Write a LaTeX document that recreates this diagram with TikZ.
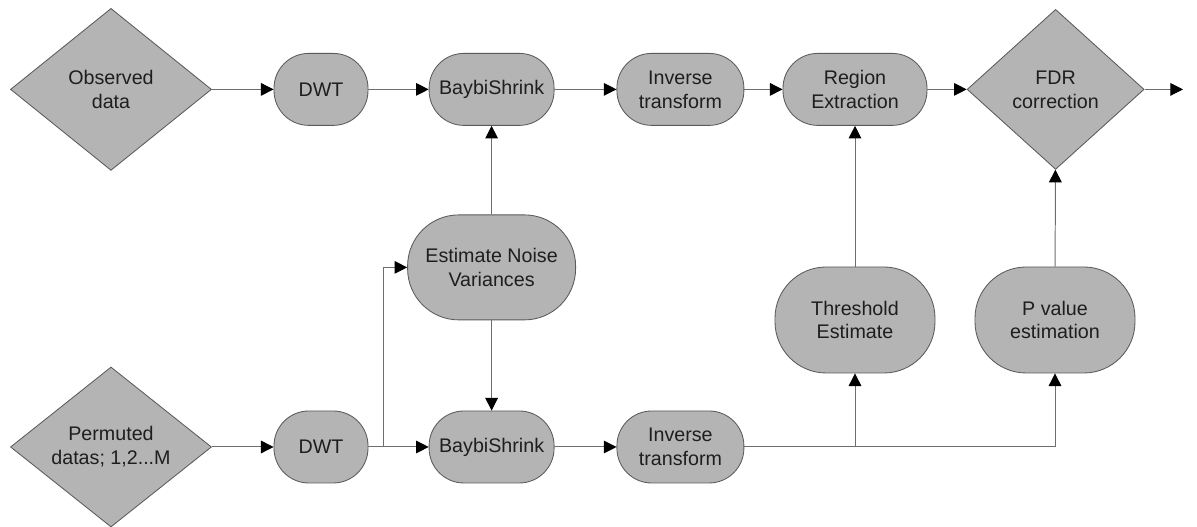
\documentclass[tikz,border=0pt]{standalone}
\usepackage{fontspec}
\setmainfont{Liberation Sans}
\usepackage{tikz}
\usetikzlibrary{arrows.meta,calc,positioning,shapes.geometric}
\definecolor{Shade}{HTML}{B4B4B4}
\definecolor{Edge}{HTML}{5A5A5A}
\definecolor{Wire}{HTML}{6E6E6E}
\definecolor{Ink}{HTML}{1E1E1E}
\tikzset{stage/.style={rectangle,rounded corners=.87cm,draw=Edge,fill=Shade,line width=.6pt,align=center,text=Ink,inner sep=2pt,minimum width=3.125cm,minimum height=1.8cm},bigstage/.style={stage,rounded corners=1.28cm,minimum height=2.65cm,minimum width=4cm},source/.style={diamond,draw=Edge,fill=Shade,line width=.6pt,align=center,text=Ink,inner sep=0pt,minimum width=5.025cm,minimum height=4.05cm},flow/.style={-{Triangle[length=9pt,width=9pt,black]},draw=Wire,line width=.7pt}}

\begin{document}
\begin{tikzpicture}[every node/.style={font=\fontsize{14}{17}\selectfont}]
      \useasboundingbox (0,0) rectangle (29.925,13.175);
      % observed branch
      \node[source](obs) at (2.775,10.94){Observed\\data};
      \node[stage,minimum width=2.35cm](dwtA) at (8.025,10.94){DWT};
      \node[stage](bsA) at (12.29,10.94){BaybiShrink};
      \node[stage,minimum width=3.175cm](invA) at (17.01,10.94){Inverse\\transform};
      \node[stage,minimum width=3.6cm](reg) at (21.375,10.94){Region\\Extraction};
      \node[source,minimum width=4.425cm,minimum height=4cm](fdr) at (26.39,10.94){FDR\\correction};
      \coordinate (out) at (29.575,10.94);
      % permuted branch
      \node[source,minimum height=4cm](perm) at (2.775,2.0){Permuted\\datas; 1,2...M};
      \node[stage,minimum width=2.35cm](dwtB) at (8.025,2.0){DWT};
      \node[stage](bsB) at (12.29,2.0){BaybiShrink};
      \node[stage,minimum width=3.175cm](invB) at (17.01,2.0){Inverse\\transform};
      \node[bigstage,minimum width=4.2cm,minimum height=2.625cm](noise) at (12.29,6.49){Estimate Noise\\Variances};
      \node[bigstage](thr) at (21.375,5.175){Threshold\\Estimate};
      \node[bigstage](pval) at (26.375,5.175){P value\\estimation};
      \coordinate (br) at (9.575,2.0);
      \coordinate (tj) at (thr |- invB);
      % connectors
      \draw[flow](obs)--(dwtA);\draw[flow](dwtA)--(bsA);\draw[flow](bsA)--(invA);\draw[flow](invA)--(reg);\draw[flow](reg)--(fdr);\draw[flow](fdr.east)--(out);
      \draw[flow](perm)--(dwtB);\draw[flow](dwtB)--(bsB);\draw[flow](bsB)--(invB);
      \draw[flow](br)|-(noise.west);
      \draw[flow](noise)--(bsA);\draw[flow](noise)--(bsB);
      \draw[flow](invB.east)-|(pval.south);\draw[flow](tj)--(thr.south);
      \draw[flow](thr)--(reg);\draw[flow](pval)--(fdr);
    \end{tikzpicture}
\end{document}
